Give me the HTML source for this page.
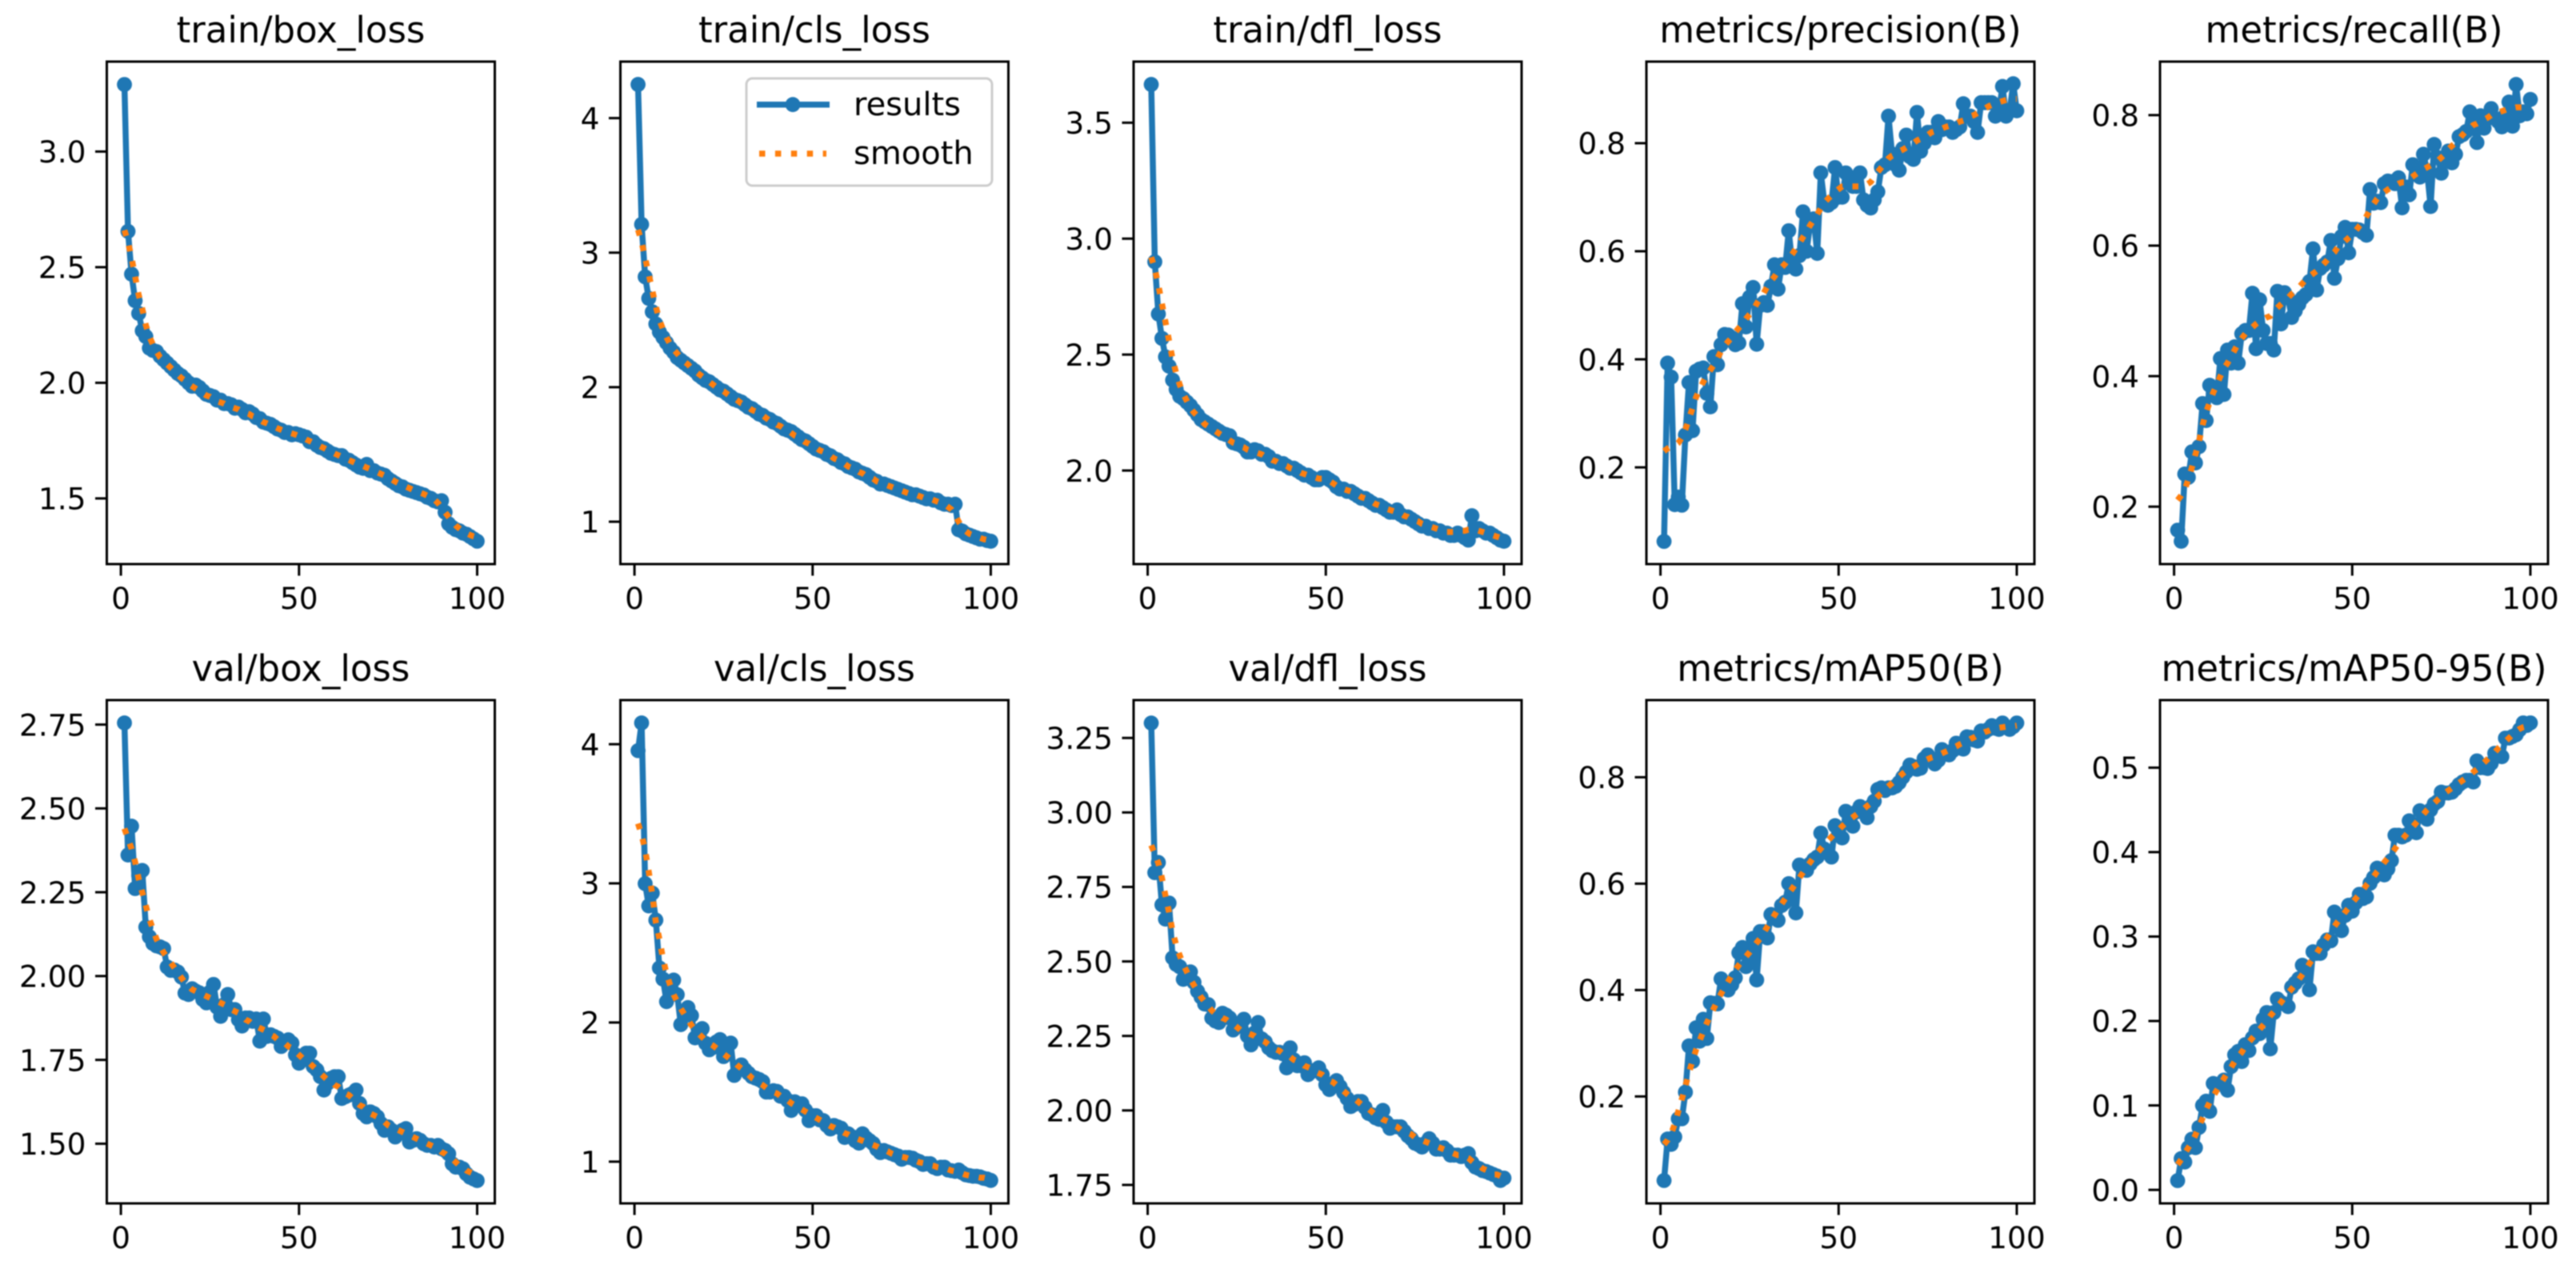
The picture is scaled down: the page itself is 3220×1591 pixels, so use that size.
<!DOCTYPE html>
<html lang="en">
<head>
<meta charset="utf-8">
<title>Training results</title>
<style>
  html, body { margin: 0; padding: 0; background: #fff; }
  svg { display: block; filter: blur(0.8px); }
  text { font-family: "DejaVu Sans", "Liberation Sans", sans-serif; fill: #000; }
</style>
</head>
<body>
<svg id="figure" xmlns="http://www.w3.org/2000/svg" width="3220" height="1591" viewBox="0 0 3220 1591"></svg>
<script>
const xTicks = [0, 50, 100];
const xLimits = [-3.95, 104.95];

const trainBoxResults = [3.29,2.655,2.47,2.355,2.3,2.225,2.2,2.15,2.14,2.135,
2.115,2.1,2.085,2.07,2.055,2.04,2.03,2.015,2,1.985,
1.99,1.98,1.965,1.95,1.945,1.94,1.925,1.925,1.91,1.91,
1.905,1.89,1.895,1.885,1.87,1.875,1.865,1.85,1.845,1.83,
1.825,1.82,1.81,1.8,1.795,1.785,1.785,1.775,1.78,1.775,
1.77,1.765,1.745,1.745,1.73,1.72,1.715,1.705,1.695,1.69,
1.685,1.685,1.67,1.665,1.655,1.645,1.635,1.63,1.647,1.62,
1.62,1.61,1.605,1.6,1.585,1.575,1.565,1.555,1.55,1.54,
1.535,1.53,1.525,1.52,1.515,1.505,1.5,1.49,1.485,1.49,
1.44,1.39,1.375,1.365,1.36,1.35,1.345,1.335,1.325,1.315];
const trainBoxSmooth = [2.66,2.61,2.54,2.46,2.38,2.32,2.25,2.2,2.165,2.135,
2.11,2.095,2.08,2.065,2.05,2.035,2.02,2.01,1.995,1.985,
1.975,1.965,1.955,1.945,1.94,1.93,1.92,1.915,1.91,1.9,
1.895,1.89,1.885,1.875,1.87,1.865,1.855,1.85,1.84,1.83,
1.825,1.818,1.81,1.803,1.797,1.791,1.786,1.781,1.776,1.77,
1.763,1.755,1.748,1.74,1.733,1.725,1.718,1.71,1.702,1.694,
1.687,1.68,1.673,1.666,1.659,1.652,1.646,1.64,1.633,1.627,
1.62,1.613,1.606,1.599,1.59,1.582,1.573,1.565,1.558,1.551,
1.544,1.537,1.531,1.525,1.519,1.512,1.505,1.495,1.48,1.46,
1.44,1.42,1.4,1.383,1.37,1.358,1.349,1.342,1.336,1.332];
const trainBoxYLimits = [1.216, 3.389];
const trainBoxTicks = [1.5, 2.0, 2.5, 3.0];

const trainClsResults = [4.25,3.21,2.82,2.66,2.56,2.47,2.41,2.37,2.33,2.29,
2.26,2.22,2.2,2.18,2.16,2.14,2.12,2.09,2.07,2.05,
2.04,2.02,2,1.98,1.97,1.95,1.93,1.91,1.9,1.89,
1.87,1.85,1.84,1.82,1.8,1.79,1.77,1.76,1.74,1.73,
1.71,1.69,1.68,1.67,1.65,1.63,1.61,1.6,1.58,1.56,
1.54,1.53,1.52,1.5,1.49,1.47,1.46,1.44,1.43,1.41,
1.4,1.39,1.37,1.36,1.35,1.33,1.31,1.3,1.28,1.28,
1.27,1.26,1.25,1.24,1.23,1.22,1.21,1.2,1.2,1.19,
1.18,1.17,1.17,1.16,1.16,1.14,1.13,1.13,1.12,1.13,
0.94,0.93,0.91,0.9,0.89,0.88,0.87,0.87,0.86,0.855];
const trainClsSmooth = [3.17,3.08,2.96,2.84,2.72,2.6,2.5,2.43,2.37,2.32,
2.28,2.25,2.22,2.19,2.17,2.14,2.12,2.1,2.08,2.06,
2.04,2.02,2,1.98,1.97,1.95,1.93,1.92,1.9,1.88,
1.87,1.85,1.83,1.82,1.8,1.79,1.77,1.75,1.74,1.72,
1.71,1.69,1.68,1.66,1.64,1.63,1.61,1.59,1.58,1.56,
1.55,1.53,1.52,1.5,1.49,1.47,1.46,1.44,1.43,1.41,
1.4,1.39,1.37,1.36,1.34,1.33,1.32,1.3,1.29,1.28,
1.27,1.26,1.25,1.24,1.23,1.22,1.21,1.2,1.2,1.19,
1.18,1.17,1.17,1.16,1.15,1.14,1.13,1.11,1.09,1.05,
1,0.96,0.93,0.91,0.9,0.89,0.88,0.87,0.865,0.86];
const trainClsYLimits = [0.685, 4.42];
const trainClsTicks = [1, 2, 3, 4];

const trainDflResults = [3.665,2.9,2.675,2.57,2.49,2.45,2.39,2.35,2.32,2.31,
2.295,2.28,2.26,2.24,2.22,2.21,2.2,2.19,2.18,2.17,
2.16,2.155,2.15,2.12,2.115,2.11,2.1,2.08,2.08,2.09,
2.085,2.07,2.07,2.06,2.04,2.04,2.03,2.03,2.02,2.01,
2.01,2,1.99,1.98,1.98,1.97,1.96,1.96,1.97,1.97,
1.96,1.95,1.93,1.92,1.92,1.91,1.91,1.9,1.89,1.88,
1.88,1.87,1.86,1.85,1.85,1.84,1.83,1.82,1.82,1.83,
1.81,1.8,1.8,1.79,1.78,1.77,1.76,1.76,1.75,1.75,
1.74,1.74,1.73,1.73,1.72,1.72,1.73,1.72,1.71,1.7,
1.805,1.74,1.75,1.74,1.73,1.73,1.72,1.71,1.7,1.695];
const trainDflSmooth = [2.92,2.87,2.8,2.72,2.64,2.56,2.48,2.42,2.37,2.33,
2.3,2.27,2.25,2.235,2.22,2.2,2.19,2.18,2.17,2.16,
2.15,2.14,2.13,2.12,2.115,2.105,2.1,2.09,2.085,2.08,
2.075,2.07,2.06,2.055,2.045,2.04,2.03,2.025,2.02,2.01,
2.005,2,1.99,1.985,1.98,1.975,1.97,1.965,1.965,1.96,
1.955,1.945,1.935,1.93,1.92,1.915,1.91,1.9,1.895,1.885,
1.88,1.87,1.865,1.855,1.85,1.845,1.835,1.83,1.825,1.82,
1.815,1.805,1.8,1.79,1.785,1.78,1.77,1.765,1.76,1.755,
1.75,1.745,1.74,1.735,1.735,1.735,1.735,1.74,1.74,1.745,
1.745,1.745,1.74,1.735,1.73,1.725,1.72,1.715,1.71,1.705];
const trainDflYLimits = [1.5965, 3.7635];
const trainDflTicks = [2.0, 2.5, 3.0, 3.5];

const precisionResults = [0.063,0.393,0.367,0.131,0.145,0.13,0.26,0.357,0.268,0.378,
0.382,0.384,0.337,0.312,0.405,0.39,0.427,0.446,0.445,0.44,
0.427,0.43,0.503,0.46,0.515,0.533,0.428,0.5,0.505,0.5,
0.535,0.575,0.53,0.575,0.57,0.638,0.575,0.567,0.592,0.673,
0.6,0.65,0.66,0.596,0.745,0.69,0.685,0.69,0.755,0.7,
0.7,0.745,0.73,0.72,0.72,0.745,0.695,0.685,0.68,0.695,
0.71,0.755,0.76,0.85,0.78,0.76,0.75,0.79,0.815,0.775,
0.77,0.857,0.785,0.8,0.82,0.82,0.81,0.84,0.825,0.83,
0.83,0.82,0.825,0.83,0.873,0.85,0.85,0.84,0.82,0.875,
0.875,0.875,0.875,0.85,0.86,0.905,0.85,0.86,0.91,0.86];
const precisionSmooth = [0.23,0.235,0.238,0.24,0.245,0.255,0.27,0.29,0.31,0.33,
0.345,0.358,0.37,0.38,0.39,0.402,0.415,0.425,0.433,0.44,
0.45,0.458,0.465,0.475,0.483,0.49,0.503,0.513,0.523,0.535,
0.545,0.553,0.563,0.57,0.577,0.586,0.595,0.605,0.615,0.626,
0.636,0.648,0.658,0.668,0.68,0.69,0.697,0.703,0.71,0.715,
0.72,0.72,0.72,0.72,0.72,0.72,0.722,0.724,0.728,0.737,
0.747,0.755,0.763,0.772,0.777,0.78,0.785,0.788,0.792,0.796,
0.8,0.805,0.808,0.812,0.815,0.82,0.822,0.825,0.827,0.83,
0.832,0.835,0.837,0.84,0.842,0.846,0.85,0.852,0.856,0.86,
0.864,0.868,0.871,0.874,0.876,0.878,0.88,0.881,0.882,0.882];
const precisionYLimits = [0.021, 0.951];
const precisionTicks = [0.2, 0.4, 0.6, 0.8];

const recallResults = [0.164,0.147,0.25,0.245,0.284,0.267,0.292,0.358,0.332,0.386,
0.375,0.367,0.427,0.372,0.44,0.42,0.445,0.42,0.465,0.47,
0.47,0.527,0.442,0.517,0.47,0.45,0.45,0.44,0.53,0.48,
0.528,0.52,0.49,0.5,0.51,0.52,0.525,0.545,0.595,0.532,
0.565,0.57,0.575,0.608,0.55,0.58,0.614,0.628,0.589,0.625,
0.625,0.624,0.62,0.616,0.686,0.665,0.668,0.666,0.695,0.699,
0.698,0.695,0.704,0.658,0.69,0.678,0.724,0.72,0.705,0.74,
0.715,0.66,0.755,0.735,0.711,0.73,0.745,0.727,0.74,0.767,
0.77,0.775,0.805,0.785,0.758,0.799,0.78,0.795,0.81,0.795,
0.79,0.782,0.8,0.82,0.783,0.847,0.799,0.805,0.802,0.824];
const recallSmooth = [0.21,0.217,0.226,0.242,0.26,0.28,0.3,0.325,0.345,0.36,
0.375,0.387,0.4,0.412,0.42,0.43,0.44,0.45,0.458,0.465,
0.47,0.475,0.48,0.484,0.487,0.49,0.492,0.5,0.505,0.51,
0.515,0.52,0.526,0.53,0.536,0.542,0.548,0.553,0.557,0.561,
0.566,0.572,0.578,0.585,0.59,0.598,0.602,0.607,0.612,0.617,
0.623,0.63,0.636,0.645,0.655,0.664,0.672,0.678,0.682,0.686,
0.689,0.692,0.695,0.697,0.697,0.702,0.706,0.71,0.714,0.717,
0.72,0.723,0.727,0.73,0.735,0.74,0.748,0.753,0.758,0.763,
0.77,0.776,0.78,0.785,0.787,0.79,0.793,0.796,0.8,0.802,
0.804,0.806,0.808,0.81,0.811,0.812,0.812,0.812,0.812,0.81];
const recallYLimits = [0.112, 0.882];
const recallTicks = [0.2, 0.4, 0.6, 0.8];

const valBoxResults = [2.755,2.361,2.447,2.261,2.3,2.315,2.146,2.117,2.097,2.09,
2.087,2.082,2.027,2.017,2.018,2.012,1.997,1.949,1.945,1.962,
1.955,1.95,1.93,1.92,1.952,1.975,1.907,1.88,1.915,1.945,
1.9,1.9,1.87,1.851,1.875,1.875,1.865,1.872,1.806,1.872,
1.82,1.825,1.82,1.815,1.79,1.8,1.81,1.8,1.765,1.74,
1.75,1.77,1.77,1.73,1.72,1.7,1.66,1.68,1.695,1.7,
1.7,1.635,1.64,1.645,1.65,1.66,1.62,1.59,1.58,1.595,
1.59,1.58,1.56,1.54,1.55,1.54,1.52,1.53,1.54,1.545,
1.505,1.51,1.515,1.51,1.5,1.495,1.495,1.49,1.495,1.485,
1.48,1.47,1.44,1.43,1.43,1.425,1.41,1.4,1.395,1.39];
const valBoxSmooth = [2.44,2.41,2.38,2.34,2.29,2.25,2.21,2.17,2.14,2.11,
2.09,2.07,2.055,2.04,2.025,2.01,1.995,1.98,1.97,1.96,
1.955,1.95,1.945,1.94,1.935,1.93,1.925,1.92,1.915,1.91,
1.9,1.895,1.89,1.88,1.87,1.865,1.855,1.85,1.845,1.84,
1.835,1.825,1.82,1.81,1.805,1.8,1.79,1.785,1.775,1.765,
1.755,1.75,1.74,1.73,1.72,1.71,1.7,1.69,1.685,1.675,
1.67,1.66,1.65,1.645,1.635,1.625,1.615,1.61,1.6,1.59,
1.585,1.58,1.57,1.565,1.555,1.55,1.545,1.54,1.535,1.53,
1.525,1.52,1.515,1.51,1.505,1.5,1.495,1.49,1.485,1.475,
1.47,1.46,1.455,1.445,1.435,1.43,1.42,1.415,1.41,1.405];
const valBoxYLimits = [1.322, 2.823];
const valBoxTicks = [1.5, 1.75, 2.0, 2.25, 2.5, 2.75];

const valClsResults = [3.954,4.153,2.998,2.838,2.93,2.736,2.392,2.312,2.15,2.28,
2.305,2.2,1.985,2.05,2.107,2.05,1.89,1.93,1.956,1.85,
1.804,1.82,1.86,1.877,1.755,1.82,1.852,1.62,1.66,1.695,
1.66,1.635,1.61,1.6,1.59,1.575,1.5,1.5,1.51,1.505,
1.47,1.47,1.44,1.368,1.43,1.41,1.416,1.37,1.295,1.33,
1.33,1.3,1.295,1.26,1.235,1.26,1.25,1.24,1.174,1.2,
1.18,1.15,1.133,1.2,1.17,1.15,1.13,1.09,1.065,1.08,
1.07,1.06,1.05,1.04,1.017,1.03,1.03,1.025,1.01,1,
0.98,0.985,0.985,0.96,0.95,0.96,0.96,0.94,0.935,0.93,
0.94,0.92,0.905,0.9,0.895,0.895,0.89,0.88,0.875,0.865];
const valClsSmooth = [3.43,3.35,3.24,3.085,2.92,2.72,2.6,2.46,2.35,2.27,
2.2,2.15,2.1,2.06,2.02,1.98,1.95,1.92,1.895,1.87,
1.85,1.835,1.815,1.795,1.775,1.755,1.735,1.715,1.69,1.67,
1.65,1.625,1.6,1.585,1.565,1.55,1.53,1.515,1.5,1.49,
1.47,1.455,1.44,1.42,1.405,1.39,1.375,1.36,1.345,1.33,
1.315,1.3,1.285,1.27,1.255,1.245,1.23,1.22,1.205,1.195,
1.18,1.17,1.16,1.15,1.14,1.13,1.12,1.11,1.095,1.085,
1.075,1.06,1.05,1.04,1.035,1.03,1.02,1.01,1.005,0.995,
0.99,0.98,0.975,0.97,0.96,0.955,0.95,0.945,0.935,0.93,
0.925,0.915,0.905,0.9,0.895,0.89,0.885,0.885,0.88,0.875];
const valClsYLimits = [0.7, 4.317];
const valClsTicks = [1, 2, 3, 4];

const valDflResults = [3.3,2.798,2.832,2.69,2.642,2.696,2.512,2.49,2.482,2.44,
2.46,2.465,2.43,2.4,2.38,2.357,2.355,2.31,2.3,2.295,
2.326,2.32,2.31,2.27,2.28,2.29,2.306,2.25,2.22,2.26,
2.295,2.24,2.23,2.21,2.2,2.195,2.195,2.19,2.143,2.21,
2.17,2.15,2.15,2.16,2.12,2.13,2.135,2.143,2.12,2.086,
2.07,2.09,2.1,2.08,2.06,2.04,2.013,2.02,2.03,2.03,
2.01,1.99,1.985,1.975,1.97,2,1.96,1.94,1.945,1.945,
1.945,1.93,1.915,1.905,1.89,1.885,1.877,1.89,1.905,1.89,
1.87,1.87,1.875,1.865,1.85,1.85,1.85,1.845,1.85,1.855,
1.825,1.81,1.805,1.798,1.795,1.79,1.785,1.78,1.765,1.773];
const valDflSmooth = [2.89,2.86,2.83,2.78,2.72,2.665,2.6,2.555,2.52,2.49,
2.465,2.44,2.42,2.4,2.38,2.365,2.35,2.335,2.325,2.32,
2.31,2.305,2.295,2.29,2.28,2.27,2.265,2.26,2.255,2.25,
2.24,2.235,2.23,2.22,2.215,2.205,2.2,2.19,2.185,2.18,
2.17,2.165,2.16,2.15,2.145,2.14,2.13,2.125,2.12,2.11,
2.1,2.095,2.085,2.075,2.065,2.055,2.045,2.04,2.03,2.02,
2.01,2.005,1.995,1.985,1.98,1.97,1.965,1.96,1.95,1.945,
1.935,1.93,1.925,1.92,1.91,1.905,1.9,1.895,1.89,1.885,
1.88,1.875,1.87,1.865,1.86,1.855,1.85,1.85,1.845,1.84,
1.83,1.82,1.815,1.805,1.8,1.79,1.785,1.785,1.78,1.78];
const valDflYLimits = [1.688, 3.377];
const valDflTicks = [1.75, 2.0, 2.25, 2.5, 2.75, 3.0, 3.25];

const map50Results = [0.042,0.12,0.11,0.124,0.158,0.158,0.208,0.295,0.266,0.329,
0.304,0.345,0.309,0.376,0.375,0.374,0.421,0.41,0.4,0.41,
0.423,0.47,0.48,0.444,0.46,0.497,0.419,0.51,0.51,0.498,
0.542,0.535,0.531,0.559,0.565,0.6,0.575,0.545,0.635,0.63,
0.625,0.637,0.645,0.65,0.695,0.665,0.66,0.65,0.709,0.695,
0.686,0.736,0.72,0.708,0.735,0.745,0.74,0.724,0.745,0.755,
0.777,0.78,0.775,0.78,0.78,0.783,0.79,0.8,0.81,0.823,
0.82,0.815,0.817,0.835,0.842,0.835,0.825,0.832,0.852,0.845,
0.842,0.85,0.864,0.855,0.853,0.876,0.875,0.87,0.868,0.887,
0.885,0.89,0.897,0.892,0.89,0.902,0.895,0.89,0.895,0.902];
const map50Smooth = [0.11,0.118,0.13,0.148,0.172,0.195,0.22,0.245,0.267,0.288,
0.305,0.322,0.338,0.352,0.366,0.38,0.393,0.405,0.416,0.428,
0.438,0.447,0.455,0.463,0.471,0.48,0.489,0.497,0.508,0.519,
0.53,0.541,0.552,0.562,0.572,0.582,0.591,0.601,0.611,0.621,
0.631,0.64,0.65,0.658,0.666,0.674,0.681,0.688,0.695,0.701,
0.708,0.714,0.72,0.725,0.73,0.735,0.74,0.746,0.751,0.757,
0.764,0.77,0.777,0.783,0.789,0.795,0.801,0.807,0.812,0.816,
0.82,0.824,0.828,0.831,0.834,0.837,0.839,0.842,0.845,0.848,
0.851,0.855,0.858,0.862,0.865,0.868,0.872,0.875,0.879,0.882,
0.885,0.887,0.89,0.891,0.893,0.894,0.895,0.896,0.896,0.897];
const map50YLimits = [-0.001, 0.945];
const map50Ticks = [0.2, 0.4, 0.6, 0.8];

const map5095Results = [0.011,0.037,0.033,0.05,0.06,0.05,0.074,0.1,0.105,0.093,
0.126,0.125,0.125,0.13,0.118,0.146,0.16,0.164,0.152,0.172,
0.165,0.18,0.188,0.185,0.202,0.21,0.167,0.21,0.226,0.222,
0.22,0.217,0.24,0.245,0.25,0.266,0.255,0.237,0.282,0.28,
0.28,0.29,0.296,0.295,0.329,0.32,0.307,0.325,0.337,0.33,
0.34,0.35,0.345,0.347,0.363,0.37,0.381,0.38,0.373,0.38,
0.39,0.42,0.42,0.418,0.42,0.437,0.428,0.423,0.449,0.445,
0.439,0.45,0.457,0.46,0.471,0.47,0.47,0.471,0.475,0.48,
0.483,0.485,0.485,0.483,0.508,0.5,0.5,0.499,0.505,0.517,
0.515,0.513,0.535,0.535,0.537,0.539,0.545,0.553,0.55,0.553];
const map5095Smooth = [0.03,0.036,0.043,0.05,0.056,0.065,0.075,0.085,0.095,0.104,
0.111,0.118,0.125,0.132,0.139,0.145,0.152,0.158,0.163,0.17,
0.175,0.18,0.185,0.19,0.195,0.2,0.206,0.211,0.217,0.222,
0.228,0.233,0.238,0.243,0.249,0.255,0.261,0.268,0.274,0.28,
0.287,0.293,0.299,0.306,0.312,0.318,0.323,0.329,0.334,0.34,
0.345,0.35,0.355,0.361,0.366,0.371,0.377,0.382,0.388,0.393,
0.398,0.404,0.41,0.415,0.42,0.425,0.43,0.435,0.44,0.445,
0.45,0.454,0.458,0.462,0.466,0.47,0.473,0.476,0.479,0.482,
0.485,0.488,0.491,0.495,0.498,0.502,0.506,0.51,0.514,0.518,
0.523,0.527,0.531,0.535,0.539,0.543,0.546,0.548,0.549,0.55];
const map5095YLimits = [-0.016, 0.58];
const map5095Ticks = [0.0, 0.1, 0.2, 0.3, 0.4, 0.5];

const panels = [
  { title: 'train/box_loss', slug: 'train-box-loss', results: trainBoxResults, smooth: trainBoxSmooth, yLimits: trainBoxYLimits, yTicks: trainBoxTicks, digits: 1 },
  { title: 'train/cls_loss', slug: 'train-cls-loss', results: trainClsResults, smooth: trainClsSmooth, yLimits: trainClsYLimits, yTicks: trainClsTicks, digits: 0 },
  { title: 'train/dfl_loss', slug: 'train-dfl-loss', results: trainDflResults, smooth: trainDflSmooth, yLimits: trainDflYLimits, yTicks: trainDflTicks, digits: 1 },
  { title: 'metrics/precision(B)', slug: 'precision', results: precisionResults, smooth: precisionSmooth, yLimits: precisionYLimits, yTicks: precisionTicks, digits: 1 },
  { title: 'metrics/recall(B)', slug: 'recall', results: recallResults, smooth: recallSmooth, yLimits: recallYLimits, yTicks: recallTicks, digits: 1 },
  { title: 'val/box_loss', slug: 'val-box-loss', results: valBoxResults, smooth: valBoxSmooth, yLimits: valBoxYLimits, yTicks: valBoxTicks, digits: 2 },
  { title: 'val/cls_loss', slug: 'val-cls-loss', results: valClsResults, smooth: valClsSmooth, yLimits: valClsYLimits, yTicks: valClsTicks, digits: 0 },
  { title: 'val/dfl_loss', slug: 'val-dfl-loss', results: valDflResults, smooth: valDflSmooth, yLimits: valDflYLimits, yTicks: valDflTicks, digits: 2 },
  { title: 'metrics/mAP50(B)', slug: 'map50', results: map50Results, smooth: map50Smooth, yLimits: map50YLimits, yTicks: map50Ticks, digits: 1 },
  { title: 'metrics/mAP50-95(B)', slug: 'map50-95', results: map5095Results, smooth: map5095Smooth, yLimits: map5095YLimits, yTicks: map5095Ticks, digits: 1 }
];

const SVG_NS = 'http://www.w3.org/2000/svg';
const figure = document.getElementById('figure');
const BLUE = '#1f77b4';
const ORANGE = '#ff7f0e';
const AXES_W = 485;
const AXES_LEFT = [133.5, 775.5, 1417, 2058, 2700];
const AXES_TOP = [77, 875];
const AXES_BOTTOM = [705, 1504];

function make(parent, tag, attrs, text) {
  const el = document.createElementNS(SVG_NS, tag);
  Object.keys(attrs).forEach(function (k) { el.setAttribute(k, attrs[k]); });
  if (text !== undefined) el.textContent = text;
  parent.appendChild(el);
  return el;
}

function linePath(values, xScale, yScale) {
  return values.map(function (v, i) {
    return (i ? 'L' : 'M') + xScale(i + 1).toFixed(2) + ' ' + yScale(v).toFixed(2);
  }).join(' ');
}

function drawPanel(panel, index) {
  const col = index % 5;
  const row = Math.floor(index / 5);
  const left = AXES_LEFT[col];
  const right = left + AXES_W;
  const top = AXES_TOP[row];
  const bottom = AXES_BOTTOM[row];
  const xScale = function (x) { return left + (x - xLimits[0]) / (xLimits[1] - xLimits[0]) * AXES_W; };
  const yScale = function (y) { return bottom - (y - panel.yLimits[0]) / (panel.yLimits[1] - panel.yLimits[0]) * (bottom - top); };

  const g = make(figure, 'g', {});
  
  

  const title = make(g, 'text', { x: (left + right) / 2, y: top - 24, 'text-anchor': 'middle', 'font-size': 45 }, panel.title);
  
  

  const resultsLine = make(g, 'path', { d: linePath(panel.results, xScale, yScale), fill: 'none', stroke: BLUE, 'stroke-width': 7.5, 'stroke-linejoin': 'round', 'stroke-linecap': 'square' });
  
  

  panel.results.forEach(function (v, i) {
    const dot = make(g, 'circle', { cx: xScale(i + 1).toFixed(2), cy: yScale(v).toFixed(2), r: 9.4, fill: BLUE });
    
    
  });

  const smoothLine = make(g, 'path', { d: linePath(panel.smooth, xScale, yScale), fill: 'none', stroke: ORANGE, 'stroke-width': 7.5, 'stroke-dasharray': '7.5 12.4', 'stroke-linejoin': 'round' });
  
  

  const frame = make(g, 'rect', { x: left, y: top, width: AXES_W, height: bottom - top, fill: 'none', stroke: '#000', 'stroke-width': 3 });
  
  

  xTicks.forEach(function (t) {
    const px = xScale(t);
    const tick = make(g, 'line', { x1: px, x2: px, y1: bottom, y2: bottom + 14.5, stroke: '#000', 'stroke-width': 3 });
    
    
    const label = make(g, 'text', { x: px, y: bottom + 56, 'text-anchor': 'middle', 'font-size': 37.5 }, String(t));
    
    
  });

  panel.yTicks.forEach(function (t) {
    const py = yScale(t);
    const tick = make(g, 'line', { x1: left - 14.5, x2: left, y1: py, y2: py, stroke: '#000', 'stroke-width': 3 });
    
    
    const label = make(g, 'text', { x: left - 26, y: py + 13.7, 'text-anchor': 'end', 'font-size': 37.5 }, t.toFixed(panel.digits));
    
    
  });
}

function drawLegend() {
  const g = make(figure, 'g', {});
  
  

  const box = make(g, 'rect', { x: 933, y: 98, width: 307, height: 134, rx: 7.5, ry: 7.5, fill: '#fff', 'fill-opacity': 0.8, stroke: '#ccc', 'stroke-width': 3 });
  
  

  const blueKey = make(g, 'line', { x1: 946, x2: 1037, y1: 130.7, y2: 130.7, stroke: BLUE, 'stroke-width': 7.5 });
  
  

  const blueDot = make(g, 'circle', { cx: 991, cy: 130.7, r: 9.4, fill: BLUE });
  
  

  const blueText = make(g, 'text', { x: 1067, y: 144, 'font-size': 40 }, 'results');
  
  

  const orangeKey = make(g, 'line', { x1: 949, x2: 1033, y1: 192, y2: 192, stroke: ORANGE, 'stroke-width': 7.5, 'stroke-dasharray': '7.5 12.4' });
  
  

  const orangeText = make(g, 'text', { x: 1067, y: 205, 'font-size': 40 }, 'smooth');
  
  
}

make(figure, 'rect', { x: 0, y: 0, width: 3220, height: 1591, fill: '#fff' });
panels.forEach(drawPanel);
drawLegend();
</script>
</body>
</html>
